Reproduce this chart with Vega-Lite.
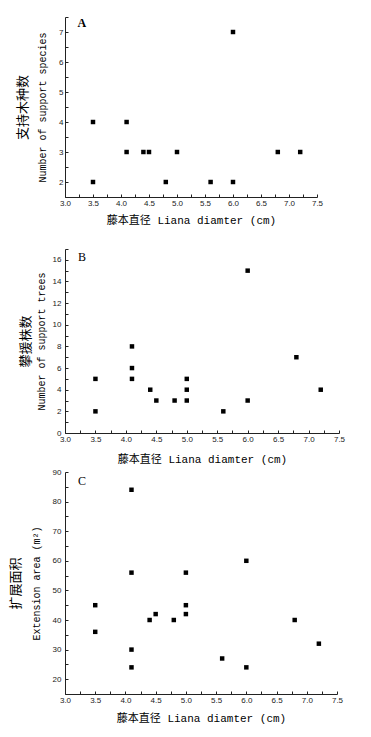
{
  "$schema": "https://vega.github.io/schema/vega-lite/v6.json",
  "padding": {"left": 9, "top": 13, "right": 5, "bottom": 5},
  "background": "white",
  "config": {
    "view": {"stroke": null},
    "axis": {
      "grid": false,
      "domainColor": "#222",
      "tickColor": "#222",
      "labelFont": "Liberation Sans",
      "labelFontSize": 8,
      "labelColor": "#222",
      "labelOverlap": false,
      "labelFlush": false,
      "tickSize": -3,
      "labelPadding": 5,
      "titleColor": "black",
      "titleFontWeight": "normal"
    }
  },
  "spacing": 20,
  "vconcat": [
    {
      "width": 252,
      "height": 180,
      "data": {"values": [
        {"d": 3.5, "n": 4}, {"d": 3.5, "n": 2}, {"d": 4.1, "n": 4}, {"d": 4.1, "n": 3},
        {"d": 4.4, "n": 3}, {"d": 4.5, "n": 3}, {"d": 4.8, "n": 2}, {"d": 5.0, "n": 3},
        {"d": 5.6, "n": 2}, {"d": 6.0, "n": 7}, {"d": 6.0, "n": 2}, {"d": 6.8, "n": 3},
        {"d": 7.2, "n": 3}
      ]},
      "layer": [
        {
          "mark": {"type": "point", "shape": "square", "filled": true, "size": 20, "color": "black", "opacity": 1},
          "encoding": {
            "x": {"field": "d", "type": "quantitative", "scale": {"domain": [3, 7.5], "nice": false, "zero": false},
              "axis": {"values": [3, 3.25, 3.5, 3.75, 4, 4.25, 4.5, 4.75, 5, 5.25, 5.5, 5.75, 6, 6.25, 6.5, 6.75, 7, 7.25, 7.5],
                "labelOverlap": false, "labelFlush": false,
                "labelExpr": "datum.value % 0.5 == 0 ? format(datum.value, '.1f') : ''",
                "title": "藤本直径 Liana diamter (cm)", "titleFont": "Liberation Mono, Noto Sans CJK SC", "titleFontSize": 11, "titlePadding": 7}},
            "y": {"field": "n", "type": "quantitative", "scale": {"domain": [1.5, 7.5], "nice": false, "zero": false},
              "axis": {"orient": "left", "values": [1.5, 2, 2.5, 3, 3.5, 4, 4.5, 5, 5.5, 6, 6.5, 7, 7.5],
                "labelOverlap": false, "labelFlush": false,
                "labelExpr": "datum.value % 1 == 0 && datum.value <= 7 ? format(datum.value, 'd') : ''",
                "title": "Number of support species", "titleFont": "Liberation Mono", "titleFontSize": 10, "titlePadding": 11}}
          }
        },
        {
          "mark": {"type": "point", "opacity": 0},
          "encoding": {
            "x": {"field": "d", "type": "quantitative", "scale": {"domain": [3, 7.5], "nice": false, "zero": false},
              "axis": {"values": [3, 3.25, 3.5, 3.75, 4, 4.25, 4.5, 4.75, 5, 5.25, 5.5, 5.75, 6, 6.25, 6.5, 6.75, 7, 7.25, 7.5],
                "labelOverlap": false, "labelFlush": false,
                "labelExpr": "datum.value % 0.5 == 0 ? format(datum.value, '.1f') : ''",
                "title": "藤本直径 Liana diamter (cm)", "titleFont": "Liberation Mono, Noto Sans CJK SC", "titleFontSize": 11, "titlePadding": 7}},
            "y": {"field": "n", "type": "quantitative",
              "axis": {"orient": "left", "labels": false, "ticks": false, "domain": false,
                "title": "支持木种数", "titleFont": "Noto Sans CJK SC", "titleFontSize": 13, "titlePadding": 36}}
          }
        },
        {
          "data": {"values": [{"label": "A"}]},
          "mark": {"type": "text", "font": "Liberation Serif", "fontSize": 12, "fontWeight": "bold", "color": "black"},
          "encoding": {
            "x": {"datum": 3.3, "type": "quantitative",
              "axis": {"values": [3, 3.25, 3.5, 3.75, 4, 4.25, 4.5, 4.75, 5, 5.25, 5.5, 5.75, 6, 6.25, 6.5, 6.75, 7, 7.25, 7.5],
                "labelOverlap": false, "labelFlush": false,
                "labelExpr": "datum.value % 0.5 == 0 ? format(datum.value, '.1f') : ''",
                "title": "藤本直径 Liana diamter (cm)", "titleFont": "Liberation Mono, Noto Sans CJK SC", "titleFontSize": 11, "titlePadding": 7}},
            "y": {"datum": 7.3, "type": "quantitative", "axis": null},
            "text": {"field": "label"}
          }
        }
      ],
      "resolve": {"axis": {"y": "independent"}}
    },
    {
      "spacing": 4,
      "vconcat": [
        {
          "width": 274,
          "height": 184,
          "data": {"values": [
            {"d": 3.5, "n": 5}, {"d": 3.5, "n": 2}, {"d": 4.1, "n": 8}, {"d": 4.1, "n": 6},
            {"d": 4.1, "n": 5}, {"d": 4.4, "n": 4}, {"d": 4.5, "n": 3}, {"d": 4.8, "n": 3},
            {"d": 5.0, "n": 5}, {"d": 5.0, "n": 4}, {"d": 5.0, "n": 3}, {"d": 5.6, "n": 2},
            {"d": 6.0, "n": 15}, {"d": 6.0, "n": 3}, {"d": 6.8, "n": 7}, {"d": 7.2, "n": 4}
          ]},
          "layer": [
            {
              "mark": {"type": "point", "shape": "square", "filled": true, "size": 20, "color": "black", "opacity": 1},
              "encoding": {
                "x": {"field": "d", "type": "quantitative", "scale": {"domain": [3, 7.5], "nice": false, "zero": false},
                  "axis": {"values": [3, 3.25, 3.5, 3.75, 4, 4.25, 4.5, 4.75, 5, 5.25, 5.5, 5.75, 6, 6.25, 6.5, 6.75, 7, 7.25, 7.5],
                    "labelOverlap": false, "labelFlush": false,
                    "labelExpr": "datum.value % 0.5 == 0 ? format(datum.value, '.1f') : ''",
                    "title": "藤本直径 Liana diamter (cm)", "titleFont": "Liberation Mono, Noto Sans CJK SC", "titleFontSize": 11, "titlePadding": 10}},
                "y": {"field": "n", "type": "quantitative", "scale": {"domain": [0, 17], "nice": false, "zero": false},
                  "axis": {"orient": "left", "values": [0, 1, 2, 3, 4, 5, 6, 7, 8, 9, 10, 11, 12, 13, 14, 15, 16, 17],
                    "labelOverlap": false, "labelFlush": false, "labelPadding": 7,
                    "labelExpr": "datum.value % 2 == 0 && datum.value <= 16 ? format(datum.value, 'd') : ''",
                    "title": "Number of support trees", "titleFont": "Liberation Mono", "titleFontSize": 10, "titlePadding": 5.5}}
              }
            },
            {
              "mark": {"type": "point", "opacity": 0},
              "encoding": {
                "x": {"field": "d", "type": "quantitative", "scale": {"domain": [3, 7.5], "nice": false, "zero": false},
                  "axis": {"values": [3, 3.25, 3.5, 3.75, 4, 4.25, 4.5, 4.75, 5, 5.25, 5.5, 5.75, 6, 6.25, 6.5, 6.75, 7, 7.25, 7.5],
                    "labelOverlap": false, "labelFlush": false,
                    "labelExpr": "datum.value % 0.5 == 0 ? format(datum.value, '.1f') : ''",
                    "title": "藤本直径 Liana diamter (cm)", "titleFont": "Liberation Mono, Noto Sans CJK SC", "titleFontSize": 11, "titlePadding": 10}},
                "y": {"field": "n", "type": "quantitative",
                  "axis": {"orient": "left", "labels": false, "ticks": false, "domain": false,
                    "title": "攀援株数", "titleFont": "Noto Sans CJK SC", "titleFontSize": 13, "titlePadding": 33}}
              }
            },
            {
              "data": {"values": [{"label": "B"}]},
              "mark": {"type": "text", "font": "Liberation Serif", "fontSize": 12, "color": "black"},
              "encoding": {
                "x": {"datum": 3.28, "type": "quantitative",
                  "axis": {"values": [3, 3.25, 3.5, 3.75, 4, 4.25, 4.5, 4.75, 5, 5.25, 5.5, 5.75, 6, 6.25, 6.5, 6.75, 7, 7.25, 7.5],
                    "labelOverlap": false, "labelFlush": false,
                    "labelExpr": "datum.value % 0.5 == 0 ? format(datum.value, '.1f') : ''",
                    "title": "藤本直径 Liana diamter (cm)", "titleFont": "Liberation Mono, Noto Sans CJK SC", "titleFontSize": 11, "titlePadding": 10}},
                "y": {"datum": 16.3, "type": "quantitative", "axis": null},
                "text": {"field": "label"}
              }
            }
          ],
          "resolve": {"axis": {"y": "independent"}}
        },
        {
          "width": 272,
          "height": 222,
          "data": {"values": [
            {"d": 4.1, "a": 84}, {"d": 4.1, "a": 56}, {"d": 6.0, "a": 60}, {"d": 5.0, "a": 56},
            {"d": 3.5, "a": 45}, {"d": 5.0, "a": 45}, {"d": 4.5, "a": 42}, {"d": 5.0, "a": 42},
            {"d": 4.4, "a": 40}, {"d": 4.8, "a": 40}, {"d": 6.8, "a": 40}, {"d": 3.5, "a": 36},
            {"d": 4.1, "a": 30}, {"d": 7.2, "a": 32}, {"d": 5.6, "a": 27}, {"d": 4.1, "a": 24},
            {"d": 6.0, "a": 24}
          ]},
          "layer": [
            {
              "mark": {"type": "point", "shape": "square", "filled": true, "size": 20, "color": "black", "opacity": 1},
              "encoding": {
                "x": {"field": "d", "type": "quantitative", "scale": {"domain": [3, 7.5], "nice": false, "zero": false},
                  "axis": {"values": [3, 3.25, 3.5, 3.75, 4, 4.25, 4.5, 4.75, 5, 5.25, 5.5, 5.75, 6, 6.25, 6.5, 6.75, 7, 7.25, 7.5],
                    "labelOverlap": false, "labelFlush": false,
                    "labelExpr": "datum.value % 0.5 == 0 ? format(datum.value, '.1f') : ''",
                    "title": "藤本直径 Liana diamter (cm)", "titleFont": "Liberation Mono, Noto Sans CJK SC", "titleFontSize": 11, "titlePadding": 8}},
                "y": {"field": "a", "type": "quantitative", "scale": {"domain": [15, 90], "nice": false, "zero": false},
                  "axis": {"orient": "left", "values": [15, 20, 25, 30, 35, 40, 45, 50, 55, 60, 65, 70, 75, 80, 85, 90],
                    "labelOverlap": false, "labelFlush": false, "labelPadding": 7,
                    "labelExpr": "datum.value % 10 == 0 ? format(datum.value, 'd') : ''",
                    "title": "Extension area (m²)", "titleFont": "Liberation Mono", "titleFontSize": 10, "titlePadding": 11}}
              }
            },
            {
              "mark": {"type": "point", "opacity": 0},
              "encoding": {
                "x": {"field": "d", "type": "quantitative", "scale": {"domain": [3, 7.5], "nice": false, "zero": false},
                  "axis": {"values": [3, 3.25, 3.5, 3.75, 4, 4.25, 4.5, 4.75, 5, 5.25, 5.5, 5.75, 6, 6.25, 6.5, 6.75, 7, 7.25, 7.5],
                    "labelOverlap": false, "labelFlush": false,
                    "labelExpr": "datum.value % 0.5 == 0 ? format(datum.value, '.1f') : ''",
                    "title": "藤本直径 Liana diamter (cm)", "titleFont": "Liberation Mono, Noto Sans CJK SC", "titleFontSize": 11, "titlePadding": 8}},
                "y": {"field": "a", "type": "quantitative",
                  "axis": {"orient": "left", "labels": false, "ticks": false, "domain": false,
                    "title": "扩展面积", "titleFont": "Noto Sans CJK SC", "titleFontSize": 13, "titlePadding": 42.5}}
              }
            },
            {
              "data": {"values": [{"label": "C"}]},
              "mark": {"type": "text", "font": "Liberation Serif", "fontSize": 12, "color": "black"},
              "encoding": {
                "x": {"datum": 3.28, "type": "quantitative",
                  "axis": {"values": [3, 3.25, 3.5, 3.75, 4, 4.25, 4.5, 4.75, 5, 5.25, 5.5, 5.75, 6, 6.25, 6.5, 6.75, 7, 7.25, 7.5],
                    "labelOverlap": false, "labelFlush": false,
                    "labelExpr": "datum.value % 0.5 == 0 ? format(datum.value, '.1f') : ''",
                    "title": "藤本直径 Liana diamter (cm)", "titleFont": "Liberation Mono, Noto Sans CJK SC", "titleFontSize": 11, "titlePadding": 8}},
                "y": {"datum": 86.8, "type": "quantitative", "axis": null},
                "text": {"field": "label"}
              }
            }
          ],
          "resolve": {"axis": {"y": "independent"}}
        }
      ]
    }
  ]
}
